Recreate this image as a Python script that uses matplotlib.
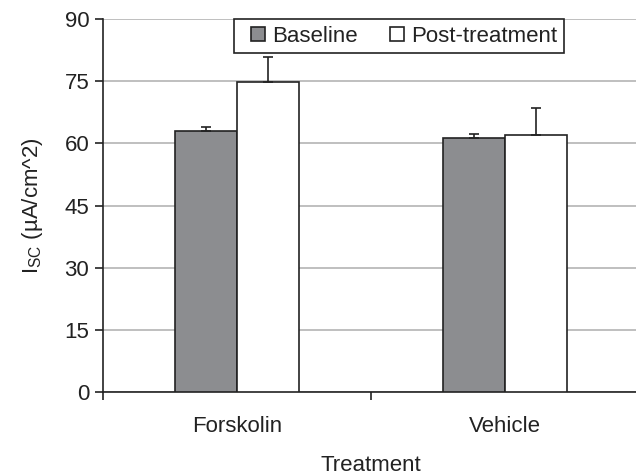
import matplotlib.pyplot as plt
from matplotlib.lines import Line2D
import numpy as np

plt.rcParams['font.family'] = ['Liberation Sans', 'DejaVu Sans']
plt.rcParams['mathtext.default'] = 'regular'

treatments = ['Forskolin', 'Vehicle']
baseline = [63.0, 61.3]
baseline_err = [0.9, 1.0]
post = [74.8, 62.0]
post_err = [6.0, 6.5]

fs = 16
ink = '#222222'
grey = '#8c8d90'

fig = plt.figure(figsize=(6.36, 4.75), dpi=100)
ax = fig.add_axes([0.162, 0.1747, 0.843, 0.7853])

x = np.arange(len(treatments))
w = 0.231
ax.bar(x - w / 2, baseline, w, color=grey, edgecolor=ink, linewidth=1.2, zorder=3)
ax.bar(x + w / 2, post, w, color='white', edgecolor=ink, linewidth=1.2, zorder=3)
# upper error bars only
ax.errorbar(x - w / 2, baseline, yerr=[[0, 0], baseline_err], fmt='none',
            ecolor=ink, elinewidth=1.2, capsize=3.5, capthick=1.2, zorder=4)
ax.errorbar(x + w / 2, post, yerr=[[0, 0], post_err], fmt='none',
            ecolor=ink, elinewidth=1.2, capsize=3.5, capthick=1.2, zorder=4)

ax.set_xlim(-0.5, 1.5)
ax.set_ylim(0, 90)
ax.set_yticks(np.arange(0, 91, 15))
ax.yaxis.grid(True, color='#b4b4b4', linewidth=1.2, zorder=0)

ax.set_xticks([-0.5, 0.5, 1.5])
ax.set_xticklabels([])
ax.set_xticks(x, minor=True)
ax.set_xticklabels(treatments, minor=True)
ax.tick_params(axis='x', which='minor', length=0, pad=17, labelsize=fs, colors=ink)
ax.tick_params(axis='x', which='major', direction='out', length=6, width=1.2, color=ink)
ax.tick_params(axis='y', direction='out', length=6, width=1.2, color=ink,
               labelsize=fs, labelcolor=ink, pad=4)

for s in ['top', 'right']:
    ax.spines[s].set_visible(False)
for s in ['left', 'bottom']:
    ax.spines[s].set_color(ink)
    ax.spines[s].set_linewidth(1.2)

ax.set_ylabel('I$_{SC}$ (µA/cm^2)', fontsize=fs, color=ink, labelpad=14)
ax.set_xlabel('Treatment', fontsize=fs, color=ink, labelpad=13)

# square markers as legend keys
handles = [Line2D([], [], linestyle='none', marker='s', markersize=10, markerfacecolor=grey,
                  markeredgecolor=ink, markeredgewidth=1.2, label='Baseline'),
           Line2D([], [], linestyle='none', marker='s', markersize=10, markerfacecolor='white',
                  markeredgecolor=ink, markeredgewidth=1.2, label='Post-treatment')]
leg = ax.legend(handles=handles, ncol=2, loc='upper center', bbox_to_anchor=(0.552, 1.0),
                fontsize=fs, fancybox=False, framealpha=1, edgecolor=ink,
                handlelength=1.5, handletextpad=-0.1, columnspacing=1.0,
                borderpad=0.3, borderaxespad=0)
leg.get_frame().set_linewidth(1.2)
for t in leg.get_texts():
    t.set_color(ink)

fig.savefig('out.png', dpi=100)
